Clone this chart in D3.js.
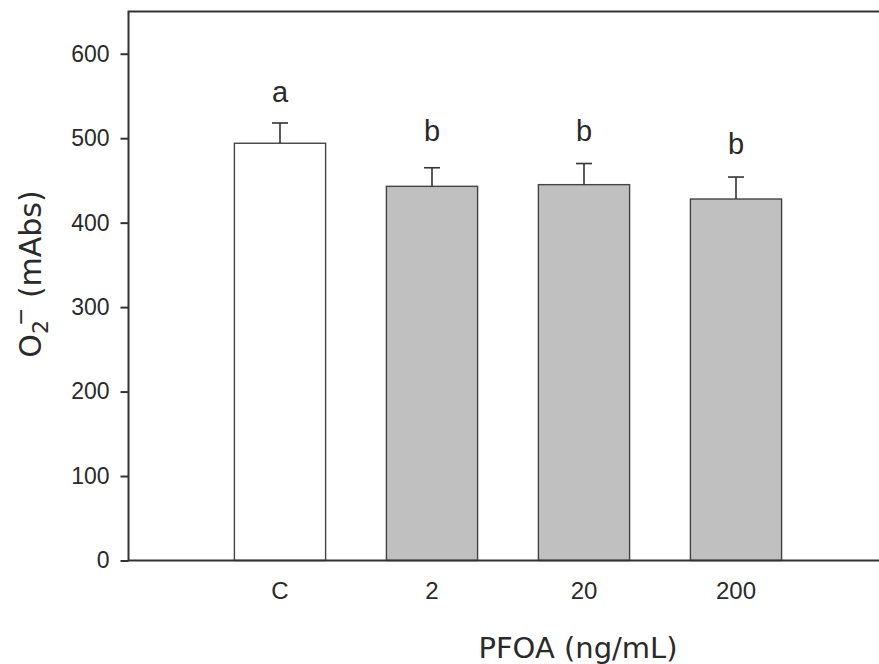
<!DOCTYPE html>
<html><head><meta charset="utf-8">
<script src="https://cdn.jsdelivr.net/npm/d3@7"></script>
<style>body{margin:0;background:#fff}svg{display:block}text{font-family:"Liberation Sans",Arial,sans-serif;fill:#2a2a2a}</style>
</head><body><svg id="chart" width="879" height="664"></svg>
<script>
const categories = ["C", "2", "20", "200"];
const means = [494, 443, 445, 428];
const errors = [24, 22, 25, 26];
const letters = ["a", "b", "b", "b"];
const letterLevels = [543, 497, 497, 481];
const fills = ["#ffffff", "#c0c0c0", "#c0c0c0", "#c0c0c0"];
const yTicks = [0, 100, 200, 300, 400, 500, 600];

(function () {
const svg = d3.select("#chart");
const pL = 128.5, pR = 888.5, pT = 11.5, pB = 560.5;
const y = d3.scaleLinear().domain([0, 650]).range([pB, pT]);
const x = d3.scaleBand().domain(categories).range([204, 812]).paddingInner(0.4).paddingOuter(0.2);
const ink = "#333";

// bars
svg.selectAll("rect.bar").data(categories).join("rect")
  .attr("x", d => x(d)).attr("width", x.bandwidth())
  .attr("y", (d, i) => y(means[i])).attr("height", (d, i) => y(0) - y(means[i]))
  .attr("fill", (d, i) => fills[i]).attr("stroke", "#444").attr("stroke-width", 1.4);

// error bars
const cx = d => x(d) + x.bandwidth() / 2;
svg.selectAll("line.err").data(categories).join("line")
  .attr("x1", cx).attr("x2", cx)
  .attr("y1", (d, i) => y(means[i])).attr("y2", (d, i) => y(means[i] + errors[i]))
  .attr("stroke", ink).attr("stroke-width", 1.6);
svg.selectAll("line.cap").data(categories).join("line")
  .attr("x1", d => cx(d) - 8).attr("x2", d => cx(d) + 8)
  .attr("y1", (d, i) => y(means[i] + errors[i])).attr("y2", (d, i) => y(means[i] + errors[i]))
  .attr("stroke", ink).attr("stroke-width", 1.6);

// letters
svg.selectAll("text.let").data(categories).join("text")
  .attr("x", cx).attr("y", (d, i) => y(letterLevels[i]))
  .attr("text-anchor", "middle").attr("font-size", 29).text((d, i) => letters[i]);

// y axis
const yAxis = svg.append("g").attr("transform", `translate(${pL},0)`)
  .call(d3.axisLeft(y).tickValues(yTicks).tickSize(8).tickPadding(11));
yAxis.select(".domain").remove();
yAxis.selectAll(".tick line").attr("stroke", ink).attr("stroke-width", 2);
yAxis.selectAll(".tick text").attr("font-size", 23).attr("fill", "#2a2a2a").style("font-family", "Liberation Sans, Arial, sans-serif");

// x axis labels
const xAxis = svg.append("g").attr("transform", `translate(0,${pB})`)
  .call(d3.axisBottom(x).tickSize(0).tickPadding(21));
xAxis.select(".domain").remove();
xAxis.selectAll(".tick text").attr("font-size", 24).attr("fill", "#2a2a2a").style("font-family", "Liberation Sans, Arial, sans-serif");

// frame
svg.append("path").attr("d", `M${pR},${pT}H${pL}V${pB}H${pR}`)
  .attr("fill", "none").attr("stroke", ink).attr("stroke-width", 2);

// axis titles
svg.append("text").attr("x", 578).attr("y", 658).attr("text-anchor", "middle")
  .style("font-family", "DejaVu Sans, sans-serif").attr("font-size", 29).text("PFOA (ng/mL)");
const yt = svg.append("text").attr("transform", "translate(41,274) rotate(-90)")
  .attr("text-anchor", "middle").style("font-family", "DejaVu Sans, sans-serif").attr("font-size", 30);
yt.append("tspan").text("O");
yt.append("tspan").attr("font-size", 22).attr("dy", 7).text("2");
yt.append("tspan").attr("font-size", 22).attr("dx", -6).attr("dy", -20).text("\u2212");
yt.append("tspan").attr("dy", 13).text(" (mAbs)");
})();
</script></body></html>
